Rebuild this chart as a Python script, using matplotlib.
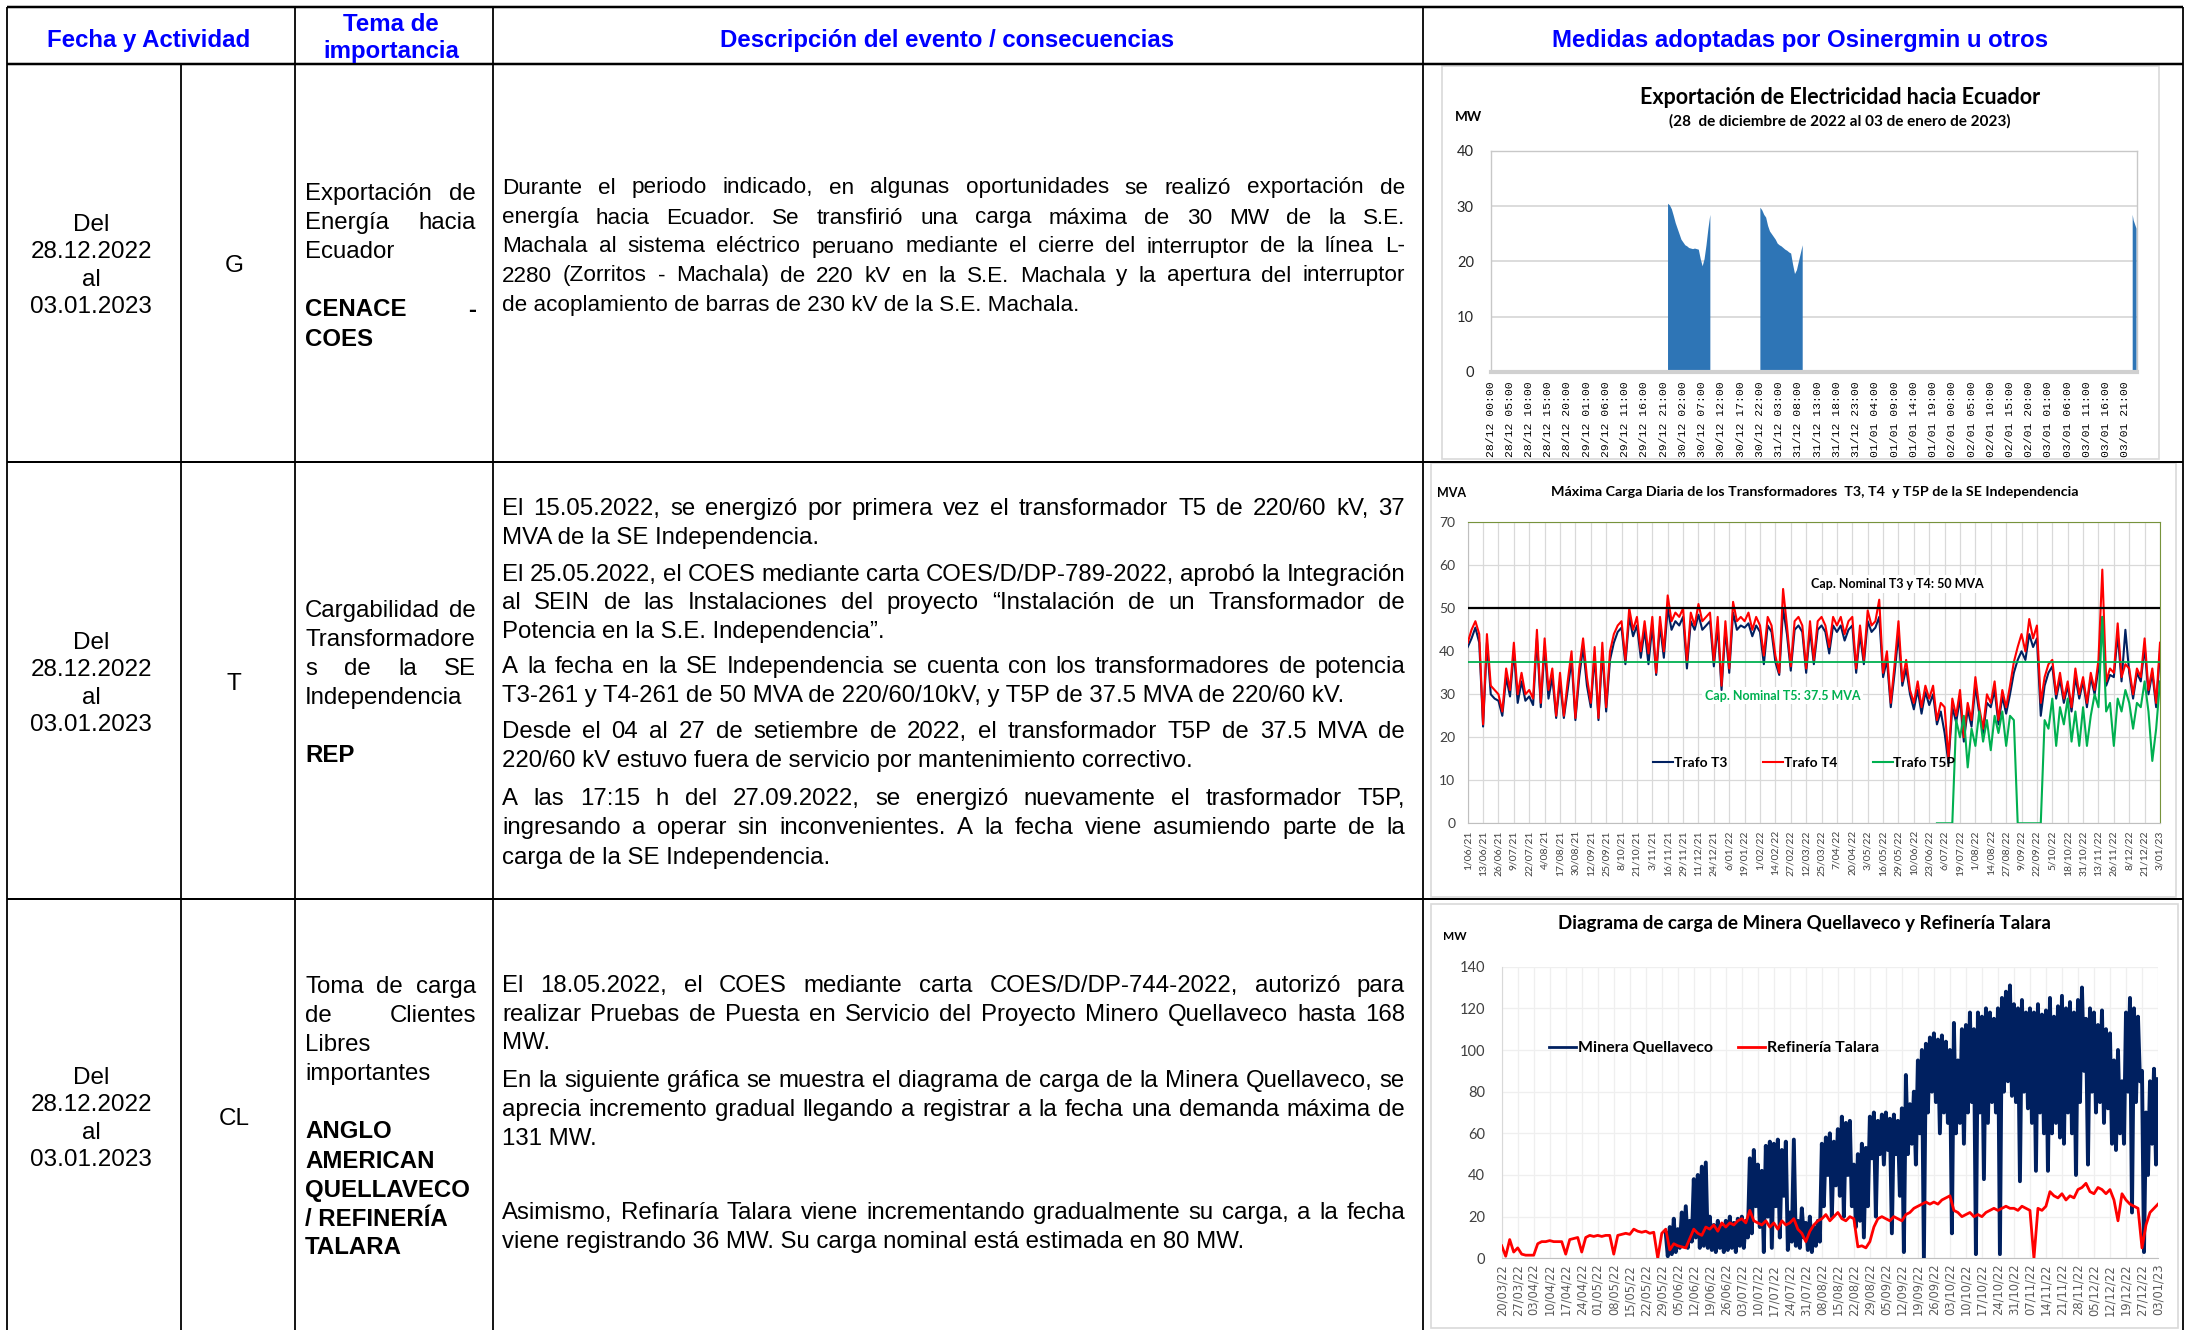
import numpy as np
import matplotlib
matplotlib.use('Agg')
import matplotlib.pyplot as plt
from matplotlib.patches import Rectangle

W, H = 2186, 1330
BODY = 'Liberation Sans'
CHART = 'Lato'
BLUE = '#0000FF'
NAVY = '#002060'
RED = '#FF0000'
GREEN = '#00B050'
FILL = '#2E75B6'
GRID = '#D9D9D9'

# ---------------- chart 1: exportacion hacia Ecuador (MW, hours from 28/12 00:00)
exp_start = [46.0, 70.0, 166.75]
exp_step = [0.5, 0.5, 0.25]
exp_b1 = [30.5, 30.2, 29.5, 28.3, 27, 26, 25, 24, 23.5, 23, 22.8, 22.5, 22.4, 22.3,
          22.4, 22.3, 22.2, 20.5, 19.2, 20.5, 23, 26, 28.5]
exp_b2 = [29.8, 29.3, 28.5, 28, 26.5, 25.5, 25, 24.5, 24, 23.3, 23, 22.8, 22.5, 22.2,
          22, 21.7, 21.5, 19.5, 17.8, 18.5, 20, 21.5, 23]
exp_b3 = [28.5, 27.5, 27, 26.5, 26]
exp_labels = ['28/12 00:00', '28/12 05:00', '28/12 10:00', '28/12 15:00', '28/12 20:00',
              '29/12 01:00', '29/12 06:00', '29/12 11:00', '29/12 16:00', '29/12 21:00',
              '30/12 02:00', '30/12 07:00', '30/12 12:00', '30/12 17:00', '30/12 22:00',
              '31/12 03:00', '31/12 08:00', '31/12 13:00', '31/12 18:00', '31/12 23:00',
              '01/01 04:00', '01/01 09:00', '01/01 14:00', '01/01 19:00', '02/01 00:00',
              '02/01 05:00', '02/01 10:00', '02/01 15:00', '02/01 20:00', '03/01 01:00',
              '03/01 06:00', '03/01 11:00', '03/01 16:00', '03/01 21:00']

# ---------------- chart 2: carga diaria transformadores (MVA), 4 samples per label step
trafo_t4 = [42, 45, 47, 44, 23, 44, 32, 31, 30, 26, 36, 31, 42, 30, 35, 30,
            31, 29, 45, 28, 43, 31, 36, 25, 35, 25, 33, 40, 24.5, 36, 43, 34,
            28, 41, 24.5, 42, 27, 40, 44, 46, 47, 38, 50, 45, 48, 40, 47, 39.5,
            48, 35, 48, 40, 53, 47, 49, 48, 50, 37.5, 49, 46, 51, 47, 48, 49,
            37.5, 48, 32, 47, 36, 51.5, 47, 48, 47, 49, 45, 48, 46, 39, 48, 46,
            39, 35, 54.5, 46, 36.5, 47, 48, 46, 36, 47, 38, 47, 48, 46, 41, 48,
            46, 48, 44, 47, 48, 36, 46, 38, 49.5, 46, 47, 52, 35, 40, 28, 37,
            47, 33, 38, 31, 28, 33, 27, 32, 29, 32, 24, 28, 27, 15, 29, 25,
            31, 20, 28, 24, 34, 27, 22, 30, 28, 33, 24, 31, 27, 32, 37.5, 41,
            44, 40, 47.5, 43, 46, 28, 34, 37, 38, 30, 35, 29, 33, 27, 36, 30,
            34, 28, 35, 31, 38, 59, 33, 36, 35, 46.5, 34, 37, 36, 30, 36, 34,
            43, 31, 36, 28, 42]
trafo_t3 = [41, 43, 45.5, 42, 22.5, 42, 30, 29, 28.5, 25, 34, 29.5, 40, 28, 33, 28.5,
            29.5, 27.5, 43, 27, 41, 29, 34, 24.5, 33, 24.5, 31, 38, 24, 34, 41, 32,
            27, 39, 24, 40, 26, 38, 42, 44.5, 45.5, 37, 48, 43.5, 46, 38.5, 45, 37,
            46, 34.5, 46, 38.5, 50, 45, 47, 46, 48, 36, 47, 45, 48.5, 45, 46, 47,
            36.5, 46, 31, 45, 35, 49, 45, 46, 45.5, 46.5, 43.5, 46, 44.5, 37, 46, 44.5,
            37.5, 34.5, 50, 44, 35.5, 45, 46, 44.5, 35, 45, 37, 45, 46, 44.5, 39.5, 46,
            44.5, 46, 42.5, 45, 46, 35, 44, 37, 47, 44.5, 45.5, 48, 34, 38, 27, 35,
            44, 32, 36, 30, 26.5, 31, 25.5, 30.5, 27.5, 30, 23, 26, 21, 14, 27, 23.5,
            29, 19, 26.5, 22.5, 32, 25.5, 21, 28, 27, 31, 23, 29.5, 25.5, 30, 35, 38,
            40, 38, 44, 41, 43, 25, 32, 35, 36.5, 29, 33.5, 28, 32, 26, 34, 29,
            33, 27, 34, 30, 36, 48, 32, 34.5, 34, 44, 33, 45, 35, 29, 35, 33,
            41, 30, 35, 27, 40]
trafo_t5p_start = 30.5
trafo_t5p = [0, 0, 0, 0, 0, 24, 20, 25, 13, 22, 18, 26, 19, 24, 17, 25, 21, 26, 18, 25, 24,
             0, 0, 0, 0, 0, 0, 0,
             24, 22, 29, 18, 27, 23, 29, 19, 26, 18, 27, 18, 25, 30, 27, 48, 26, 28, 18,
             29, 26, 31, 28, 22, 28, 27, 33, 26, 14.5, 22, 33]
cap_t3t4 = 50
cap_t5 = 37.5
trafo_labels = ['1/06/21', '13/06/21', '26/06/21', '9/07/21', '22/07/21', '4/08/21', '17/08/21',
                '30/08/21', '12/09/21', '25/09/21', '8/10/21', '21/10/21', '3/11/21', '16/11/21',
                '29/11/21', '11/12/21', '24/12/21', '6/01/22', '19/01/22', '1/02/22', '14/02/22',
                '27/02/22', '12/03/22', '25/03/22', '7/04/22', '20/04/22', '3/05/22', '16/05/22',
                '29/05/22', '10/06/22', '23/06/22', '6/07/22', '19/07/22', '1/08/22', '14/08/22',
                '27/08/22', '9/09/22', '22/09/22', '5/10/22', '18/10/22', '31/10/22', '13/11/22',
                '26/11/22', '8/12/22', '21/12/22', '3/01/23']

# ---------------- chart 3: Quellaveco / Talara (MW), positions in weekly label steps
minera_start = 10.25
minera = [12, 1, 15, 2, 19, 3,
          14, 5, 22, 6, 25, 5, 18, 8,
          38, 10, 40, 5, 44, 6, 46, 5,
          20, 4, 16, 3, 18, 5, 15, 3,
          18, 4, 20, 5, 17, 3, 19, 6,
          20, 5, 18, 10, 48, 12, 52, 25,
          45, 15, 42, 3, 54, 20, 56, 5,
          55, 25, 57, 10, 52, 30, 56, 4,
          22, 8, 57, 6, 18, 5, 24, 10,
          17, 4, 20, 3, 15, 6, 18, 8,
          55, 25, 58, 40, 60, 20, 56, 35,
          62, 30, 68, 20, 65, 40, 66, 25,
          45, 15, 50, 18, 55, 10, 53, 25,
          68, 48, 70, 20, 66, 50, 69, 45,
          70, 52, 67, 12, 69, 50, 66, 30,
          72, 3, 88, 50, 74, 55, 80, 45,
          95, 60, 100, 0, 103, 70, 106, 80,
          108, 75, 105, 60, 107, 70, 104, 65,
          100, 12, 113, 60, 95, 65, 110, 55,
          112, 70, 118, 75, 110, 2, 118, 70,
          116, 38, 120, 65, 118, 75, 115, 70,
          120, 2, 125, 80, 128, 85, 131, 78,
          122, 75, 120, 37, 124, 80, 118, 72,
          120, 65, 118, 42, 122, 70, 117, 60,
          119, 42, 125, 60, 116, 65, 121, 58,
          126, 55, 120, 70, 123, 60, 118, 40,
          124, 75, 130, 90, 115, 45, 120, 80,
          118, 70, 112, 75, 119, 65, 110, 72,
          108, 55, 95, 52, 100, 60, 85, 55,
          118, 80, 125, 22, 120, 75, 116, 85,
          90, 3, 70, 40, 85, 55, 91, 45,
          86]
talara = [6, 1, 9, 3, 5, 2, 1.5, 1.5, 1.5, 7, 8, 8, 8.5, 8, 8, 8,
          2, 9, 9.5, 10, 3, 10, 11, 10.5, 11, 10.5, 11, 11, 2, 11, 11.5, 12,
          11.5, 14, 13, 12.5, 13, 12, 12.5, 0, 12, 14, 4, 7, 6, 5.5, 5, 9.5,
          14, 12, 11, 15, 14, 16, 13, 17, 15, 17, 16, 18, 19, 17, 23, 18,
          17, 16, 18, 15, 17, 14, 18, 16, 17, 19, 14, 12, 8, 13, 16, 18,
          19, 21, 18, 20, 22, 19, 18, 20, 19, 5.5, 6, 5, 8, 15, 19, 20,
          19, 18, 20, 19, 18, 21, 22, 24, 25, 26, 27, 26, 27, 26, 28, 29,
          30, 23, 22, 20, 21, 22, 20, 21, 20, 22, 23, 24, 23, 24, 25, 24,
          24, 23, 25, 24, 23, 0, 24, 23, 25, 32, 30, 29, 31, 28, 30, 29,
          33, 34, 36, 32, 31, 34, 33, 31, 33, 28, 18, 31, 28, 26, 25, 24,
          5, 16, 22, 24, 26]
carga_labels = ['20/03/22', '27/03/22', '03/04/22', '10/04/22', '17/04/22', '24/04/22',
                '01/05/22', '08/05/22', '15/05/22', '22/05/22', '29/05/22', '05/06/22',
                '12/06/22', '19/06/22', '26/06/22', '03/07/22', '10/07/22', '17/07/22',
                '24/07/22', '31/07/22', '08/08/22', '15/08/22', '22/08/22', '29/08/22',
                '05/09/22', '12/09/22', '19/09/22', '26/09/22', '03/10/22', '10/10/22',
                '17/10/22', '24/10/22', '31/10/22', '07/11/22', '14/11/22', '21/11/22',
                '28/11/22', '05/12/22', '12/12/22', '19/12/22', '27/12/22', '03/01/23']

# ---------------- table texts
headers = ['Fecha y Actividad', 'Tema de\nimportancia', 'Descripción del evento / consecuencias',
           'Medidas adoptadas por Osinergmin u otros']
fecha = ['Del', '28.12.2022', 'al', '03.01.2023']
actividad = ['G', 'T', 'CL']
# (text, bold, justified)
tema = [
    [('Exportación de', 0, 1), ('Energía hacia', 0, 1), ('Ecuador', 0, 0), ('', 0, 0),
     ('CENACE -', 1, 1), ('COES', 1, 0)],
    [('Cargabilidad de', 0, 1), ('Transformadore', 0, 0), ('s de la SE', 0, 1),
     ('Independencia', 0, 0), ('', 0, 0), ('REP', 1, 0)],
    [('Toma de carga', 0, 1), ('de Clientes', 0, 1), ('Libres', 0, 0), ('importantes', 0, 0),
     ('', 0, 0), ('ANGLO', 1, 0), ('AMERICAN', 1, 0), ('QUELLAVECO', 1, 0),
     ('/ REFINERÍA', 1, 0), ('TALARA', 1, 0)],
]
desc = [
    [('Durante el periodo indicado, en algunas oportunidades se realizó exportación de', 1),
     ('energía hacia Ecuador. Se transfirió una carga máxima de 30 MW de la S.E.', 1),
     ('Machala al sistema eléctrico peruano mediante el cierre del interruptor de la línea L-', 1),
     ('2280 (Zorritos - Machala) de 220 kV en la S.E. Machala y la apertura del interruptor', 1),
     ('de acoplamiento de barras de 230 kV de la S.E. Machala.', 0)],
    [('El 15.05.2022, se energizó por primera vez el transformador T5 de 220/60 kV, 37', 1),
     ('MVA de la SE Independencia.', 0),
     ('El 25.05.2022, el COES mediante carta COES/D/DP-789-2022, aprobó la Integración', 1),
     ('al SEIN de las Instalaciones del proyecto “Instalación de un Transformador de', 1),
     ('Potencia en la S.E. Independencia”.', 0),
     ('A la fecha en la SE Independencia se cuenta con los transformadores de potencia', 1),
     ('T3-261 y T4-261 de 50 MVA de 220/60/10kV, y T5P de 37.5 MVA de 220/60 kV.', 0),
     ('Desde el 04 al 27 de setiembre de 2022, el transformador T5P de 37.5 MVA de', 1),
     ('220/60 kV estuvo fuera de servicio por mantenimiento correctivo.', 0),
     ('A las 17:15 h del 27.09.2022, se energizó nuevamente el trasformador T5P,', 1),
     ('ingresando a operar sin inconvenientes. A la fecha viene asumiendo parte de la', 1),
     ('carga de la SE Independencia.', 0)],
    [('El 18.05.2022, el COES mediante carta COES/D/DP-744-2022, autorizó para', 1),
     ('realizar Pruebas de Puesta en Servicio del Proyecto Minero Quellaveco hasta 168', 1),
     ('MW.', 0),
     ('En la siguiente gráfica se muestra el diagrama de carga de la Minera Quellaveco, se', 1),
     ('aprecia incremento gradual llegando a registrar a la fecha una demanda máxima de', 1),
     ('131 MW.', 0),
     ('Asimismo, Refinaría Talara viene incrementando gradualmente su carga, a la fecha', 1),
     ('viene registrando 36 MW. Su carga nominal está estimada en 80 MW.', 0)],
]
desc_y = [[185, 215, 244, 273, 302],
          [506, 535, 572, 600, 629, 664, 693, 729, 758, 796, 825, 855],
          [983, 1012, 1040, 1078, 1107, 1136, 1210, 1239]]
desc_fs = [16.2, 17.3, 17.3]
row_mid = [263, 681, 1116]
tema_top = [191, 608, 984]
DY = 3  # baseline nudge

fig = plt.figure(figsize=(W / 100, H / 100), dpi=100)
base = fig.add_axes([0, 0, 1, 1])
base.set_xlim(0, W)
base.set_ylim(H, 0)
base.axis('off')
renderer = fig.canvas.get_renderer()

BODY_FS = 17.3


def put_line(s, x0, x1, y, size=BODY_FS, bold=False, justify=False, color='black'):
    kw = dict(fontsize=size, fontweight='bold' if bold else 'normal', family=BODY,
              color=color, va='center', ha='left')
    words = s.split()
    if not words:
        return
    if not justify or len(words) < 2:
        base.text(x0, y, s, **kw)
        return
    texts = [base.text(x0, y, w, **kw) for w in words]
    widths = [t.get_window_extent(renderer).width for t in texts]
    gap = (x1 - x0 - sum(widths)) / (len(words) - 1)
    x = x0
    for t, w in zip(texts, widths):
        t.set_x(x)
        x += w + gap


# table grid
k = 0.72
base.hlines([7, 64], 7, 2183, color='black', lw=2.5 * k)
base.hlines([462, 899], 7, 2183, color='black', lw=2 * k)
base.vlines([7, 295, 493, 1423, 2183], 7, H, color='black', lw=1.8 * k)
base.vlines(181, 64, H, color='black', lw=1.8 * k)

# headers
HFS = 17.3
hkw = dict(fontsize=HFS, fontweight='bold', color=BLUE, family=BODY, ha='center', va='center')
base.text(149, 40, headers[0], **hkw)
base.text(391, 38, headers[1], linespacing=1.22, **hkw)
base.text(947, 40, headers[2], **hkw)
base.text(1800, 40, headers[3], **hkw)

for r in range(3):
    for i, s in enumerate(fecha):
        base.text(91, row_mid[r] + DY + (i - 1.5) * 27.5, s, fontsize=17.5, family=BODY,
                  ha='center', va='center')
    base.text(234, row_mid[r] + DY, actividad[r], fontsize=17.5, family=BODY,
              ha='center', va='center')
    for i, (s, b, j) in enumerate(tema[r]):
        put_line(s, 305, 476, tema_top[r] + DY + i * 29, bold=bool(b), justify=bool(j))
    for (s, j), y in zip(desc[r], desc_y[r]):
        put_line(s, 502, 1405, y + DY, size=desc_fs[r], justify=bool(j))

# chart frames
for x0, y0, x1, y1 in [(1442, 66, 2159, 459), (1431, 463, 2176, 897), (1431, 904, 2178, 1328)]:
    base.add_patch(Rectangle((x0, y0), x1 - x0, y1 - y0, fill=False, ec=GRID, lw=1.2))


def px_axes(x0, y0, x1, y1):
    return fig.add_axes([x0 / W, 1 - y1 / H, (x1 - x0) / W, (y1 - y0) / H])


# ---------------- chart 1
ax1 = px_axes(1490.5, 150.7, 2137, 372)
for st, sp, vals in zip(exp_start, exp_step, [exp_b1, exp_b2, exp_b3]):
    t = st + sp * np.arange(len(vals))
    ax1.fill_between(t, 0, vals, color=FILL, lw=0)
ax1.set_xlim(0, 168)
ax1.set_ylim(0, 40)
ax1.set_yticks(range(0, 41, 10))
ax1.set_xticks(np.arange(0, 166, 5))
ax1.set_xticklabels(exp_labels, rotation=90, family='Liberation Mono', fontsize=8.2,
                    color='black')
ax1.tick_params(length=0)
ax1.tick_params(axis='y', pad=12, labelsize=10.5, labelcolor='#262626')
ax1.tick_params(axis='x', pad=7)
for lab in ax1.get_yticklabels():
    lab.set_family(CHART)
ax1.grid(axis='y', color=GRID, lw=1.3)
ax1.set_axisbelow(True)
for s in ['top', 'right', 'left']:
    ax1.spines[s].set_color('#C8C8C8')
    ax1.spines[s].set_linewidth(1)
ax1.spines['bottom'].set_color('#D0D0D0')
ax1.spines['bottom'].set_linewidth(3)
base.text(1840, 97, 'Exportación de Electricidad hacia Ecuador', fontsize=15.5, fontweight='bold',
          family=CHART, ha='center', va='center')
base.text(1840, 121, '(28  de diciembre de 2022 al 03 de enero de 2023)', fontsize=11,
          fontweight='bold', family=CHART, ha='center', va='center')
base.text(1455, 117, 'MW', fontsize=9.8, fontweight='bold', family=CHART, ha='left', va='center')

# ---------------- chart 2
ax2 = px_axes(1467.7, 522.3, 2160, 823.3)
kx = np.linspace(0, 45, len(trafo_t4))
ax2.plot(kx, trafo_t3, color=NAVY, lw=1.5, label='Trafo T3', zorder=3)
ax2.plot(kx, trafo_t4, color=RED, lw=1.5, label='Trafo T4', zorder=4)
k5 = np.linspace(trafo_t5p_start, 45, len(trafo_t5p))
ax2.plot(k5, trafo_t5p, color=GREEN, lw=1.5, label='Trafo T5P', zorder=5)
ax2.axhline(cap_t3t4, color='black', lw=1.6, zorder=6)
ax2.axhline(cap_t5, color=GREEN, lw=1.3, zorder=6)
ax2.text(22.3, 55.6, 'Cap. Nominal T3 y T4: 50 MVA', fontsize=9, fontweight='bold', family=CHART,
         ha='left', va='center', zorder=2.5,
         bbox=dict(fc='white', ec='none', pad=2))
ax2.text(15.4, 29.7, 'Cap. Nominal T5: 37.5 MVA', fontsize=9, fontweight='bold', family=CHART,
         color=GREEN, ha='left', va='center', zorder=2.5,
         bbox=dict(fc='white', ec='none', pad=2))
ax2.set_xlim(0, 45)
ax2.set_ylim(0, 70)
ax2.set_yticks(range(0, 71, 10))
ax2.set_xticks(np.arange(len(trafo_labels)))
ax2.set_xticklabels(trafo_labels, rotation=90, family=CHART, fontsize=7.5, color='#404040')
ax2.tick_params(length=0)
ax2.tick_params(axis='y', pad=9, labelsize=10, labelcolor='#404040')
ax2.tick_params(axis='x', pad=5)
for lab in ax2.get_yticklabels():
    lab.set_family(CHART)
ax2.grid(color=GRID, lw=0.9)
ax2.set_axisbelow(True)
for s in ['left', 'bottom']:
    ax2.spines[s].set_color('#BFBFBF')
for s in ['top', 'right']:
    ax2.spines[s].set_color('#77933C')
ax2.legend(loc='center', bbox_to_anchor=(0.486, 0.2), ncol=3, frameon=False,
           handlelength=1.45, handletextpad=0.05, columnspacing=2.6,
           prop=dict(family=CHART, weight='bold', size=9.9))
base.text(1815, 492, 'Máxima Carga Diaria de los Transformadores  T3, T4  y T5P de la SE Independencia',
          fontsize=10.3, fontweight='bold', family=CHART, ha='center', va='center')
base.text(1437, 493, 'MVA', fontsize=9, fontweight='bold', family=CHART, ha='left', va='center')

# ---------------- chart 3
ax3 = px_axes(1501.7, 966.7, 2158, 1258.3)
ax3.plot(np.linspace(minera_start, 41, len(minera)), minera, color=NAVY, lw=2.8,
         label='Minera Quellaveco', zorder=3)
ax3.plot(np.linspace(0, 41, len(talara)), talara, color=RED, lw=2.0,
         label='Refinería Talara', zorder=4)
ax3.set_xlim(0, 41)
ax3.set_ylim(0, 140)
ax3.set_yticks(range(0, 141, 20))
ax3.set_xticks(np.arange(len(carga_labels)))
ax3.set_xticklabels(carga_labels, rotation=90, family='DejaVu Sans', fontsize=8.3, color='#595959')
ax3.tick_params(length=0)
ax3.tick_params(axis='y', pad=12, labelsize=10.5, labelcolor='#404040')
ax3.tick_params(axis='x', pad=4)
for lab in ax3.get_yticklabels():
    lab.set_family(CHART)
ax3.grid(color='#EFEFEF', lw=0.9)
ax3.set_axisbelow(True)
ax3.spines['top'].set_visible(False)
ax3.spines['right'].set_visible(False)
ax3.spines['left'].set_color('#D9D9D9')
ax3.spines['bottom'].set_color('#BFBFBF')
leg3 = ax3.legend(loc='center', bbox_to_anchor=(0.3235, 0.721), ncol=2, frameon=False,
                  handlelength=1.7, handletextpad=0.1, columnspacing=1.55,
                  prop=dict(family=CHART, weight='bold', size=11.5))
for ln in leg3.get_lines():
    ln.set_linewidth(2.0)
base.text(1804, 924, 'Diagrama de carga de Minera Quellaveco y Refinería Talara', fontsize=13.5,
          fontweight='bold', family=CHART, ha='center', va='center')
base.text(1443, 937, 'MW', fontsize=8.5, fontweight='bold', family=CHART, ha='left', va='center')

fig.savefig('out.png', dpi=100)
